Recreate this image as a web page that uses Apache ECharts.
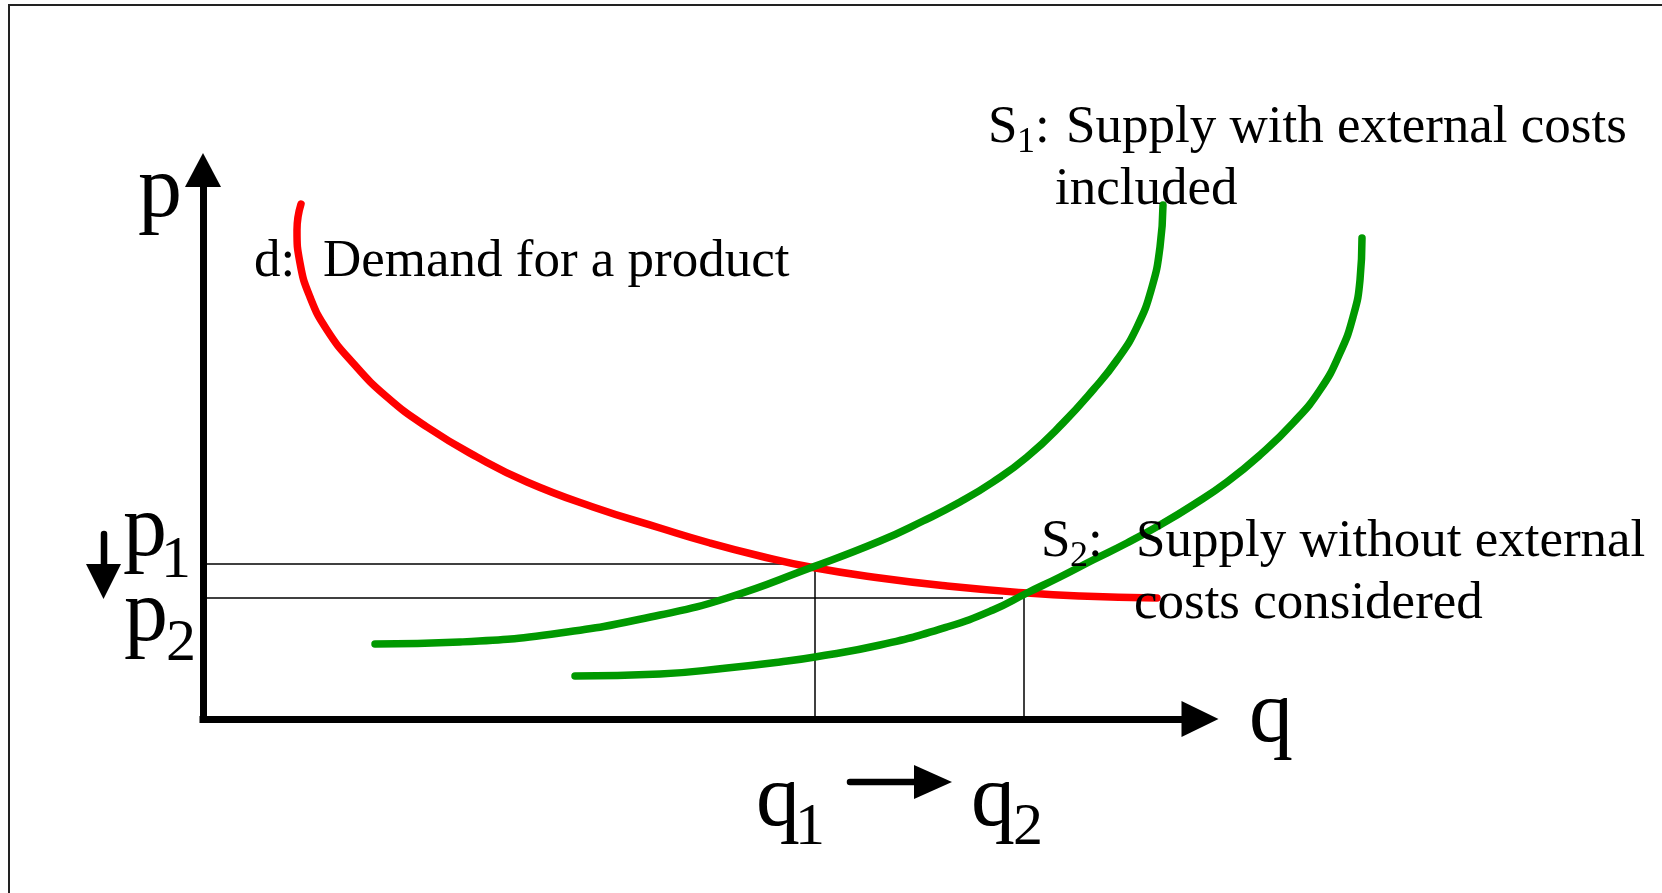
<!DOCTYPE html>
<html>
<head>
<meta charset="utf-8">
<script src="https://cdn.jsdelivr.net/npm/echarts@6/dist/echarts.min.js"></script>
<style>
html,body{margin:0;padding:0;background:#fff;}
#chart{width:1662px;height:893px;}
</style>
</head>
<body>
<div id="chart"></div>
<script>
// Axis extents (quantity q, price p), in reading units
const qAxisMax = 997;     // where the drawn q axis (with arrow) ends
const qPlotMax = 1200;    // plotting extent for the curves (S2 runs past the axis arrow)
const pAxisMax = 549;

// d: Demand for a product
const demandQ = [98, 94, 97, 107, 124, 150, 184, 224, 274, 324, 390, 457, 507, 557, 607, 677, 744, 824, 877, 954];
const demandP = [515, 489, 456, 422, 389, 356, 322, 292, 262, 237, 212, 191, 176, 163, 152, 141, 133, 126, 123, 121];

// S1: Supply with external costs included
const supply1Q = [172, 257, 357, 457, 524, 607, 677, 720, 757, 790, 824, 860, 890, 914, 934, 949, 957, 960];
const supply1P = [75, 77, 86, 104, 121, 151, 178, 198, 217, 237, 262, 296, 329, 359, 392, 432, 472, 514];

// S2: Supply without external costs considered
const supply2Q = [372, 457, 524, 577, 612, 677, 744, 790, 824, 857, 890, 924, 957, 990, 1024, 1057, 1090, 1117, 1137, 1150, 1157, 1159];
const supply2P = [43, 45, 51, 57, 62, 74, 92, 109, 126, 142, 159, 176, 194, 214, 237, 264, 296, 329, 366, 402, 439, 481];

// Equilibrium reference levels
const pLevels = [155, 121];      // p1, p2
const pLineEnds = [597, 800];    // how far the p guide lines run
const qLevels = [612, 821];      // q1, q2
const qLineTops = [149, 122];    // how high the q guide lines run

const zip = (a, b) => a.map((v, i) => [v, b[i]]);

const FONT = '"Liberation Serif", "Times New Roman", serif';
const BODY = 53, BIG = 88, SUB_BIG = 60, SUB = 36;
function txt(text, x, baseline, fs, k) {
  return {
    type: 'text', x: x, y: baseline - k * fs, z: 100,
    style: { text: text, font: fs + 'px ' + FONT, fill: '#000', align: 'left', verticalAlign: 'middle' }
  };
}
const body = (t, x, b) => txt(t, x, b, BODY, 0.30);
const sub = (t, x, b) => txt(t, x, b, SUB, 0.30);
const big = (t, x, b) => txt(t, x, b, BIG, 0.235);
const subBig = (t, x, b) => txt(t, x, b, SUB_BIG, 0.22);

const guideStyle = { color: '#000', width: 1.5 };
const guideSeries = [];
pLevels.forEach((p, i) => guideSeries.push({
  type: 'line', data: [[0, p], [pLineEnds[i], p]], showSymbol: false, silent: true,
  lineStyle: guideStyle, z: 1
}));
qLevels.forEach((q, i) => guideSeries.push({
  type: 'line', data: [[q, 0], [q, qLineTops[i]]], showSymbol: false, silent: true,
  lineStyle: guideStyle, z: 1
}));

const curve = (name, q, p, color) => ({
  type: 'line', name: name, data: zip(q, p), smooth: 0.5, showSymbol: false, silent: true, clip: false,
  xAxisIndex: 1, yAxisIndex: 1,
  lineStyle: { color: color, width: 7.5, cap: 'round', join: 'round' }, z: 5
});

const hiddenAxis = {
  type: 'value', min: 0, show: false,
  splitLine: { show: false }, axisTick: { show: false }, axisLabel: { show: false }, axisLine: { show: false }
};
const axisCommon = {
  type: 'value', min: 0,
  splitLine: { show: false }, axisTick: { show: false }, axisLabel: { show: false },
  axisLine: { show: true, onZero: false, lineStyle: { color: '#000', width: 7, cap: 'square' } }
};

const chart = echarts.init(document.getElementById('chart'), null, { renderer: 'canvas' });
chart.setOption({
  animation: false,
  backgroundColor: '#fff',
  grid: [
    { left: 203, top: 170, width: qAxisMax, height: pAxisMax, containLabel: false },
    { left: 203, top: 170, width: qPlotMax, height: pAxisMax, containLabel: false }
  ],
  xAxis: [
    Object.assign({}, axisCommon, {
      gridIndex: 0, max: qAxisMax,
      axisLine: Object.assign({}, axisCommon.axisLine, { symbol: ['none', 'triangle'], symbolSize: [36, 37] })
    }),
    Object.assign({}, hiddenAxis, { gridIndex: 1, max: qPlotMax })
  ],
  yAxis: [
    Object.assign({}, axisCommon, {
      gridIndex: 0, max: pAxisMax,
      axisLine: Object.assign({}, axisCommon.axisLine, { symbol: ['none', 'triangle'], symbolSize: [36, 34] })
    }),
    Object.assign({}, hiddenAxis, { gridIndex: 1, max: pAxisMax })
  ],
  series: guideSeries.concat([
    curve('d: Demand for a product', demandQ, demandP, '#ff0000'),
    curve('S1: Supply with external costs included', supply1Q, supply1P, '#009900'),
    curve('S2: Supply without external costs considered', supply2Q, supply2P, '#009900')
  ]),
  graphic: [
    // frame
    { type: 'line', shape: { x1: 8, y1: 5, x2: 1662, y2: 5 }, style: { stroke: '#222', lineWidth: 2 } },
    { type: 'line', shape: { x1: 9, y1: 4, x2: 9, y2: 893 }, style: { stroke: '#222', lineWidth: 2 } },
    // axis names
    big('p', 138, 214),
    big('q', 1249, 739),
    // p1 / p2
    big('p', 123, 553), subBig('1', 161, 574),
    big('p', 124, 637.5), subBig('2', 166, 657.5),
    // q1 / q2
    big('q', 756, 823), subBig('1', 795, 841),
    big('q', 971, 823), subBig('2', 1013, 841),
    // down arrow (p1 -> p2)
    { type: 'line', shape: { x1: 104, y1: 534, x2: 104, y2: 566 }, style: { stroke: '#000', lineWidth: 6.5, lineCap: 'round' } },
    { type: 'polygon', shape: { points: [[86, 564], [121, 564], [103.5, 599]] }, style: { fill: '#000' } },
    // right arrow (q1 -> q2)
    { type: 'line', shape: { x1: 850, y1: 782, x2: 916, y2: 782 }, style: { stroke: '#000', lineWidth: 6.5, lineCap: 'round' } },
    { type: 'polygon', shape: { points: [[914, 765], [914, 799], [952, 782]] }, style: { fill: '#000' } },
    // curve labels
    body('d:', 254, 277.7),
    body('Demand for a product', 323, 277.7),
    body('S', 988, 143.5), sub('1', 1017, 153.5), body(':', 1035, 143.5),
    body('Supply with external costs', 1066, 143.5),
    body('included', 1055, 206),
    body('S', 1041, 557.6), sub('2', 1070, 567.5), body(':', 1088, 557.6),
    body('Supply without external', 1136, 557.6),
    body('costs considered', 1134, 620)
  ]
});
</script>
</body>
</html>
